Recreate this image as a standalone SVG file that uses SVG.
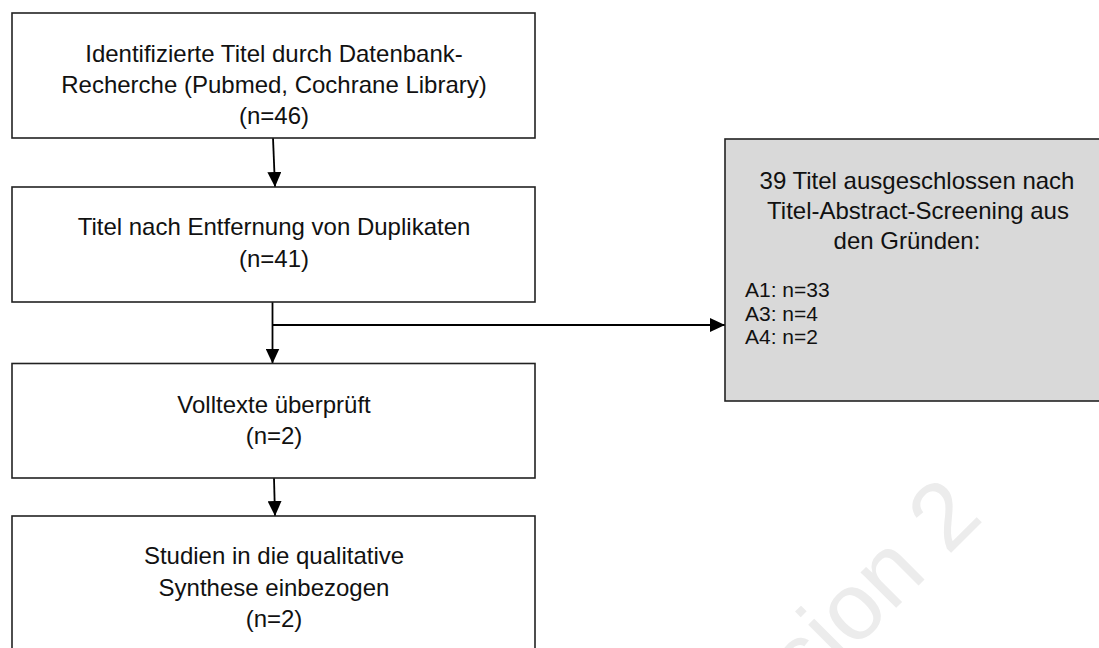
<svg xmlns="http://www.w3.org/2000/svg" width="1099" height="648" viewBox="0 0 1099 648">
  <style>
    .box { fill: #ffffff; stroke: #222222; stroke-width: 1.6; }
    .grey { fill: #d9d9d9; stroke: #222222; stroke-width: 1.6; }
    .t { font-family: "Liberation Sans", Arial, sans-serif; font-size: 24px; fill: #111111; text-anchor: middle; }
    .s { font-family: "Liberation Sans", Arial, sans-serif; font-size: 21px; fill: #111111; }
    .wm { font-family: "Liberation Sans", Arial, sans-serif; font-size: 95px; fill: #ececec; text-anchor: end; }
    .conn { stroke: #000000; stroke-width: 1.8; fill: none; marker-end: url(#arrow); }
  </style>
  <defs>
    <marker id="arrow" viewBox="0 0 15 14" refX="15" refY="7" markerWidth="15" markerHeight="14" markerUnits="userSpaceOnUse" orient="auto">
      <path d="M0,0 L15,7 L0,14 z" fill="#000000"/>
    </marker>
  </defs>
  <rect width="1099" height="648" fill="#ffffff"/>
  <text class="wm" transform="translate(985,519) rotate(-45)" x="0" y="0">Version 2</text>

  <g id="connectors">
    <line class="conn" x1="273" y1="138" x2="275" y2="187"/>
    <line class="conn" x1="272.5" y1="302" x2="272.5" y2="363.5"/>
    <line class="conn" x1="272.5" y1="325" x2="725" y2="325"/>
    <line class="conn" x1="274" y1="478" x2="275" y2="516"/>
  </g>

  <g id="node-identified">
    <rect class="box" x="12" y="13" width="523" height="125"/>
    <text class="t" x="274" y="62">Identifizierte Titel durch Datenbank-</text>
    <text class="t" x="274" y="93">Recherche (Pubmed, Cochrane Library)</text>
    <text class="t" x="274" y="124">(n=46)</text>
  </g>

  <g id="node-duplicates">
    <rect class="box" x="12" y="187" width="523" height="115"/>
    <text class="t" x="274" y="235">Titel nach Entfernung von Duplikaten</text>
    <text class="t" x="274" y="266.5">(n=41)</text>
  </g>

  <g id="node-fulltexts">
    <rect class="box" x="12" y="363.5" width="523" height="114.5"/>
    <text class="t" x="274" y="412.7">Volltexte überprüft</text>
    <text class="t" x="274" y="444">(n=2)</text>
  </g>

  <g id="node-included">
    <rect class="box" x="12" y="516" width="523" height="150"/>
    <text class="t" x="274" y="564.3">Studien in die qualitative</text>
    <text class="t" x="274" y="595.7">Synthese einbezogen</text>
    <text class="t" x="274" y="626.7">(n=2)</text>
  </g>

  <g id="node-excluded">
    <rect class="grey" x="725" y="139" width="385" height="262"/>
    <text class="t" x="917" y="188.5">39 Titel ausgeschlossen nach</text>
    <text class="t" x="918" y="218.5">Titel-Abstract-Screening aus</text>
    <text class="t" x="907" y="248.5">den Gründen:</text>
    <text class="s" x="745" y="297">A1: n=33</text>
    <text class="s" x="745" y="320.5">A3: n=4</text>
    <text class="s" x="745" y="344">A4: n=2</text>
  </g>
</svg>
